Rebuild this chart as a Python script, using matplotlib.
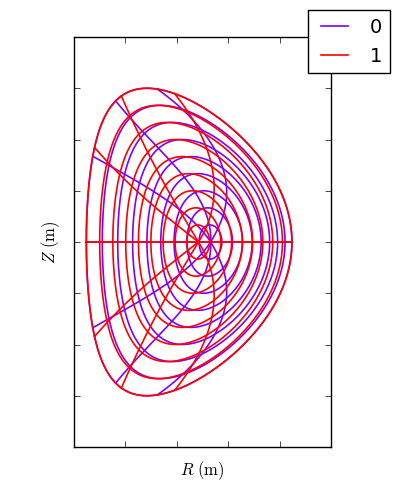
"""Surfaces de flux + lignes theta pour deux équilibres (0 et 1).

Forme de Miller (elongation, triangularité) + décalage de Shafranov de l'axe.
Les lignes theta sont données par leur angle de Miller en rho = 0, 0.5, 1.
"""
import numpy as np
import matplotlib
matplotlib.use("Agg")
import matplotlib.pyplot as plt

# bord commun (dernière surface fermée)
R0 = 1.62          # m, centre géométrique
A_MINOR = 1.0      # m
KAPPA = 1.5
DELTA = 0.41

LABELS = ["0", "1"]
COLORS = [plt.cm.rainbow(0.0), plt.cm.rainbow(1.0)]
AXIS_SHIFT = [0.21, 0.09]      # décalage de l'axe magnétique (m)
N_SURF = 9                     # nb de surfaces (rho = k/9)

# lignes theta (demi-plan haut, symétrique en bas) : angle de Miller
# lu sur la figure en rho = 0, 0.5, 1 ; + les deux lignes du plan médian
RHO_NODES = [0.0, 0.5, 1.0]
THETA_LINES = [
    [[0.85, 1.00, 1.465], [1.50, 1.93, 1.98], [2.36, 2.50, 2.55]],   # équilibre 0
    [[0.80, 1.05, 1.305], [2.30, 2.15, 1.89], [2.65, 2.60, 2.48]],   # équilibre 1
]


def surface(rho, theta, shift):
    rc = R0 + shift * (1 - rho**2)
    d = np.arcsin(DELTA * rho)
    R = rc + A_MINOR * rho * np.cos(theta + d * np.sin(theta))
    Z = KAPPA * A_MINOR * rho * np.sin(theta)
    return R, Z


def main():
    plt.style.use("classic")
    plt.rcParams["mathtext.fontset"] = "cm"

    fig = plt.figure(figsize=(4, 5), dpi=100, facecolor="white")
    ax = fig.add_axes([0.185, 0.106, 0.6425, 0.82])

    th = np.linspace(0, 2 * np.pi, 400)
    rr = np.linspace(0, 1, 200)
    for i, (lab, col, sh) in enumerate(zip(LABELS, COLORS, AXIS_SHIFT)):
        kw = dict(color=col, lw=1.2)
        for k in range(1, N_SURF + 1):
            R, Z = surface(k / N_SURF, th, sh)
            ax.plot(R, Z, label=lab if k == 1 else None, **kw)
        # plan médian
        for t in (0.0, np.pi):
            R, Z = surface(rr, np.full_like(rr, t), sh)
            ax.plot(R, Z, **kw)
        for nodes in THETA_LINES[i]:
            coef = np.polyfit(RHO_NODES, nodes, 2)
            R, Z = surface(rr, np.polyval(coef, rr), sh)
            ax.plot(R, Z, **kw)
            ax.plot(R, -Z, **kw)

    ax.set_xlim(0.5, 3.0)
    ax.set_ylim(-2.0, 2.0)
    ax.set_xticks(np.arange(0.5, 3.01, 0.5))
    ax.set_yticks(np.arange(-2.0, 2.01, 0.5))
    ax.set_xticklabels([])
    ax.set_yticklabels([])
    ax.set_xlabel(r"$R\ (\mathrm{m})$")
    ax.set_ylabel(r"$Z\ (\mathrm{m})$")

    ax.legend(loc="upper right", bbox_to_anchor=(0.975, 0.98), borderaxespad=0,
              bbox_transform=fig.transFigure, fontsize=14)

    fig.savefig("out.png", dpi=100, facecolor="white")


if __name__ == "__main__":
    main()
